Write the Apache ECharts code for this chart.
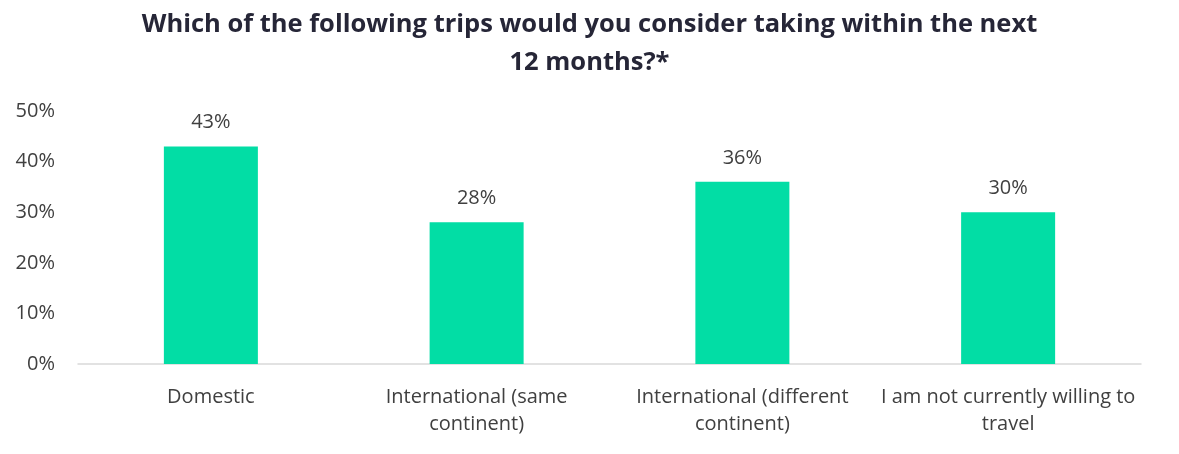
<!DOCTYPE html>
<html>
<head>
<meta charset="utf-8">
<script src="https://cdn.jsdelivr.net/npm/echarts@6/dist/echarts.min.js"></script>
<style>
html,body{margin:0;padding:0;background:#fff;}
#chart{width:1179px;height:454px;}
</style>
</head>
<body>
<div id="chart"></div>
<script>
const titleText = "Which of the following trips would you consider taking within the next\n12 months?*";
const categories = ["Domestic", "International (same\ncontinent)", "International (different\ncontinent)", "I am not currently willing to\ntravel"];
const values = [43, 28, 36, 30];
const yTicks = [0, 10, 20, 30, 40, 50];

const chart = echarts.init(document.getElementById('chart'));
chart.setOption({
  animation: false,
  title: {
    text: titleText,
    left: 'center',
    top: 1,
    textStyle: {
      fontFamily: '"Open Sans", sans-serif',
      fontWeight: 'bold',
      fontSize: 25.5,
      lineHeight: 38,
      color: '#262637'
    }
  },
  grid: { left: 78, right: 38, top: 111, bottom: 90 },
  xAxis: {
    type: 'category',
    data: categories,
    axisLine: { lineStyle: { color: '#d9d9d9', width: 1.5 } },
    axisTick: { show: false },
    axisLabel: {
      interval: 0,
      margin: 20,
      fontFamily: '"Open Sans", sans-serif',
      fontSize: 20,
      lineHeight: 27,
      color: '#404040'
    }
  },
  yAxis: {
    type: 'value',
    min: yTicks[0],
    max: yTicks[yTicks.length - 1],
    interval: 10,
    splitLine: { show: false },
    axisLine: { show: false },
    axisTick: { show: false },
    axisLabel: {
      margin: 23,
      formatter: v => v + '%',
      fontFamily: '"Open Sans", sans-serif',
      fontSize: 20,
      color: '#404040'
    }
  },
  series: [{
    type: 'bar',
    data: values,
    barWidth: 94,
    itemStyle: { color: '#02dda5' },
    label: {
      show: true,
      position: 'top',
      distance: 14,
      formatter: p => p.value + '%',
      fontFamily: '"Open Sans", sans-serif',
      fontSize: 20,
      color: '#404040'
    }
  }]
});
</script>
</body>
</html>
